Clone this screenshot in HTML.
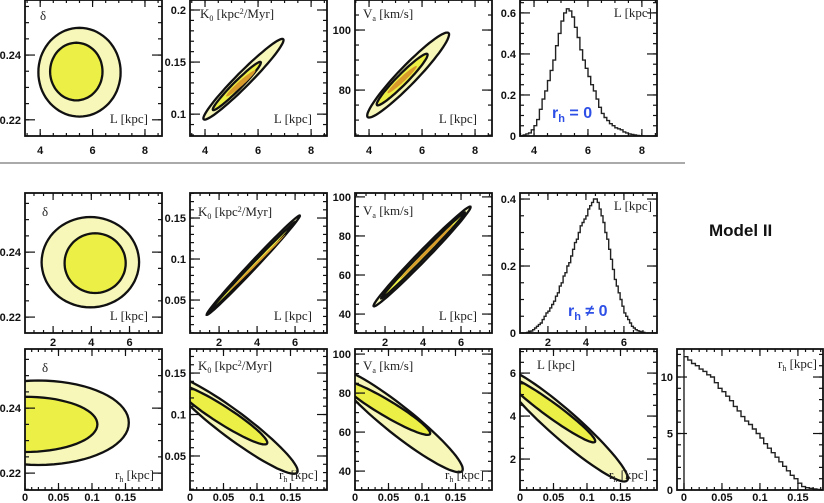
<!DOCTYPE html>
<html><head><meta charset="utf-8"><style>
html,body{margin:0;padding:0;background:#fff;}
svg{display:block;}
.tl{font-family:"Liberation Sans",sans-serif;font-weight:bold;font-size:11px;fill:#111;}
.at{font-family:"Liberation Serif",serif;font-size:13px;fill:#222;}
</style></head><body>
<svg id="fig" width="824" height="503" viewBox="0 0 824 503" xmlns="http://www.w3.org/2000/svg">
<line x1="0" y1="163" x2="685" y2="163" stroke="#555" stroke-width="1"/>
<text x="709" y="236" font-family="Liberation Sans, sans-serif" font-weight="bold" font-size="17" fill="#111">Model II</text>
<text x="552" y="118" font-family="Liberation Sans, sans-serif" font-weight="bold" font-size="16" fill="#2e4fe6">r<tspan font-size="11" dy="4">h</tspan><tspan dy="-4"> = 0</tspan></text>
<text x="568" y="316" font-family="Liberation Sans, sans-serif" font-weight="bold" font-size="16" fill="#2e4fe6">r<tspan font-size="11" dy="4">h</tspan><tspan dy="-4"> ≠ 0</tspan></text>
</svg>
<script>
// ---------- data ----------
const histLModel1Start = 3.5, histLModel1Width = 0.1;
const histLModel1 = [0,0.005,0.01,0.015,0.03,0.05,0.08,0.13,0.18,0.22,0.27,0.32,0.37,0.44,0.50,0.56,0.60,0.62,0.61,0.58,0.53,0.48,0.42,0.37,0.33,0.29,0.25,0.22,0.18,0.14,0.11,0.09,0.075,0.06,0.05,0.04,0.035,0.03,0.02,0.015,0.01,0.008,0.005,0.003,0.001,0];
const histLModel2Start = 0.8, histLModel2Width = 0.1;
const histLModel2 = [0,0.002,0.004,0.006,0.01,0.015,0.02,0.025,0.03,0.04,0.05,0.06,0.065,0.075,0.085,0.095,0.11,0.12,0.14,0.15,0.17,0.18,0.20,0.21,0.23,0.25,0.27,0.28,0.30,0.32,0.33,0.34,0.35,0.37,0.38,0.39,0.40,0.40,0.39,0.37,0.35,0.33,0.30,0.28,0.25,0.22,0.19,0.16,0.14,0.12,0.10,0.08,0.06,0.05,0.04,0.03,0.02,0.015,0.01,0.007,0.005,0.003,0.002];
const histRhStart = 0, histRhWidth = 0.005;
const histRh = [11.8,11.5,11.2,11.0,10.7,10.5,10.2,10.0,9.5,9.0,8.7,8.3,7.9,7.4,7.0,6.5,6.1,5.8,5.4,5.0,4.6,4.1,3.7,3.3,2.9,2.5,2.1,1.7,1.3,1.0,0.6,0.3,0.2,0.15,0.1,0.05,0.02];

// contours: c = centre, a = end of major semi-axis, b = end of conjugate semi-axis (data coords)
const contR1P1 = [{c:[5.5,0.2347],a:[7.07,0.2347],b:[5.5,0.2484],lvl:0},{c:[5.38,0.2349],a:[6.38,0.2349],b:[5.38,0.2438],lvl:1}];
const contR1P2 = [{c:[5.45,0.1335],a:[6.95,0.172],b:[5.64,0.1287],lvl:0},{c:[5.2,0.127],a:[6.1,0.15],b:[5.31,0.1242],lvl:1},{c:[5.35,0.1295],a:[5.9,0.142],b:[5.42,0.1278],lvl:2}];
const contR1P3 = [{c:[5.475,85],a:[7.0,99],b:[5.72,82.9],lvl:0},{c:[5.25,83.5],a:[6.2,92],b:[5.39,82.3],lvl:1},{c:[5.25,83.5],a:[5.8,88],b:[5.32,82.9],lvl:2}];
const contR2P1 = [{c:[3.95,0.2369],a:[6.5,0.2369],b:[3.95,0.2508],lvl:0},{c:[4.2,0.2366],a:[5.8,0.2366],b:[4.2,0.2458],lvl:1}];
const contR2P2 = [{c:[3.8,0.0925],a:[6.25,0.153],b:[3.93,0.0893],lvl:0},{c:[3.75,0.0905],a:[6.0,0.145],b:[3.83,0.0887],lvl:1},{c:[4.0,0.095],a:[5.5,0.13],b:[4.04,0.0942],lvl:2}];
const contR2P3 = [{c:[3.95,69.5],a:[6.5,95],b:[4.13,67.7],lvl:0},{c:[4.0,70],a:[6.2,92],b:[4.1,69],lvl:1},{c:[4.2,72],a:[5.6,86],b:[4.25,71.5],lvl:2}];
const contR3P1 = [{c:[0.02,0.2355],a:[0.155,0.2355],b:[0.02,0.2485],lvl:0},{c:[0.0,0.235],a:[0.108,0.235],b:[0.0,0.2435],lvl:1}];
const contR3P2 = [{c:[0.065,0.0875],a:[0.16,0.03],b:[0.077,0.1005],lvl:0},{c:[0.0475,0.1],a:[0.115,0.065],b:[0.0545,0.1087],lvl:1}];
const contR3P3 = [{c:[0.065,66],a:[0.16,40],b:[0.078,71.6],lvl:0},{c:[0.046,72.5],a:[0.112,59],b:[0.052,76],lvl:1}];
const contR3P4 = [{c:[0.065,3.6],a:[0.16,1.0],b:[0.079,4.09],lvl:0},{c:[0.046,4.3],a:[0.112,2.8],b:[0.0525,4.57],lvl:1}];

// ---------- axis ticks ----------
const ticksLwide = ['4','6','8'];
const ticksLnarrow = ['2','4','6'];
const ticksRh = ['0','0.05','0.1','0.15'];
const ticksDelta = ['0.22','0.24'];
const ticksK1 = ['0.1','0.15','0.2'];
const ticksK2 = ['0.05','0.1','0.15'];
const ticksV1 = ['80','100'];
const ticksV2 = ['40','60','80','100'];
const ticksH1 = ['0','0.2','0.4','0.6'];
const ticksH2 = ['0','0.2','0.4'];
const ticksLy = ['2','4','6'];
const ticksRhHist = ['0','5','10'];

const NS = 'http://www.w3.org/2000/svg';
const svg = document.getElementById('fig');
function el(tag, attrs, parent){ const e=document.createElementNS(NS,tag); for(const k in attrs) e.setAttribute(k,attrs[k]); (parent||svg).appendChild(e); return e; }

function makeAxes(box, xd, yd){
  return {
    x: v => box[0] + (v - xd[0]) / (xd[1]-xd[0]) * (box[2]-box[0]),
    y: v => box[3] - (v - yd[0]) / (yd[1]-yd[0]) * (box[3]-box[1])
  };
}

let clipId = 0;
function panel(name, box, xd, yd, xt, xminor, yt, yminor, draw, titles, lblOff){
  const g = el('g', {});
  
  
  const ax = makeAxes(box, xd, yd);
  const cid = 'clip' + (clipId++);
  const cp = el('clipPath', {id: cid}, g);
  el('rect', {x: box[0], y: box[1], width: box[2]-box[0], height: box[3]-box[1]}, cp);
  const plot = el('g', {'clip-path': 'url(#' + cid + ')'}, g);
  
  
  draw(plot, ax);
  const tg = el('g', {stroke: '#111', 'stroke-width': 1.2}, g);
  function minorRange(d, step, f){ const s = Math.ceil(d[0]/step - 1e-9); for(let i=s; i*step <= d[1]+1e-9; i++) f(i*step); }
  minorRange(xd, xminor, v => { const px = ax.x(v); const L = 3;
    el('line', {x1: px, y1: box[3], x2: px, y2: box[3]-L}, tg); el('line', {x1: px, y1: box[1], x2: px, y2: box[1]+L}, tg); });
  minorRange(yd, yminor, v => { const py = ax.y(v); const L = 4;
    el('line', {x1: box[0], y1: py, x2: box[0]+L, y2: py}, tg); el('line', {x1: box[2], y1: py, x2: box[2]-L, y2: py}, tg); });
  xt.forEach(s => { const v = parseFloat(s); const px = ax.x(v);
    el('line', {x1: px, y1: box[3], x2: px, y2: box[3]-7}, tg); el('line', {x1: px, y1: box[1], x2: px, y2: box[1]+7}, tg);
    const t = el('text', {x: px, y: box[3]+lblOff, 'text-anchor': 'middle', class: 'tl'}, g); t.textContent = s;
      });
  yt.forEach(s => { const v = parseFloat(s); const py = ax.y(v);
    el('line', {x1: box[0], y1: py, x2: box[0]+10, y2: py}, tg); el('line', {x1: box[2], y1: py, x2: box[2]-10, y2: py}, tg);
    const t = el('text', {x: box[0]-4, y: py+4, 'text-anchor': 'end', class: 'tl'}, g); t.textContent = s;
      });
  const fr = el('rect', {x: box[0], y: box[1], width: box[2]-box[0], height: box[3]-box[1], fill: 'none', stroke: '#111', 'stroke-width': 1.8}, g);
  
  
  titles.forEach(t => { const e = el('text', {x: t[0], y: t[1], class: 'at', 'text-anchor': t[3] || 'start'}, g); e.innerHTML = t[2];
      });
}

const fills = ['#f6f7b9', '#ecef45', '#d99a2c'];
function contours(list){
  return (plot, ax) => {
    list.forEach(c => {
      const cx = ax.x(c.c[0]), cy = ax.y(c.c[1]);
      const ux = ax.x(c.a[0]) - cx, uy = ax.y(c.a[1]) - cy;
      const vx = ax.x(c.b[0]) - cx, vy = ax.y(c.b[1]) - cy;
      let d = '';
      for(let i=0;i<=72;i++){ const t = i/72*2*Math.PI;
        const px = cx + ux*Math.cos(t) + vx*Math.sin(t), py = cy + uy*Math.cos(t) + vy*Math.sin(t);
        d += (i ? 'L' : 'M') + px.toFixed(1) + ',' + py.toFixed(1); }
      const p = el('path', {d: d + 'Z', fill: fills[c.lvl], stroke: c.lvl < 2 ? '#111' : 'none', 'stroke-width': 2.3}, plot);
      
      
    });
  };
}
function hist(vals, start, w){
  return (plot, ax) => {
    let d = 'M' + ax.x(start) + ',' + ax.y(0);
    vals.forEach((v, i) => { d += 'V' + ax.y(v).toFixed(1) + 'H' + ax.x(start + (i+1)*w).toFixed(1); });
    d += 'V' + ax.y(0);
    const p = el('path', {d: d, fill: 'none', stroke: '#222', 'stroke-width': 1.4}, plot);
    
    
  };
}

const K0 = 'K<tspan font-size="8" dy="3">0</tspan><tspan dy="-3"> [kpc</tspan><tspan font-size="8" dy="-4">2</tspan><tspan dy="4">/Myr]</tspan>';
const VA = 'V<tspan font-size="8" dy="3">a</tspan><tspan dy="-3"> [km/s]</tspan>';
const RH = 'r<tspan font-size="8" dy="3">h</tspan><tspan dy="-3"> [kpc]</tspan>';

// Row 1 (model I)
panel('r1-delta-vs-L', [25,0,162,136], [3.42,8.65], [0.2150,0.2570], ticksLwide, 0.5, ticksDelta, 0.005, contours(contR1P1),
  [[40,20,'δ','start','y-axis-title'],[148,123,'L [kpc]','end','x-axis-title']], 18);
panel('r1-k0-vs-L', [190,0,327,136], [3.434,8.6], [0.079,0.2096], ticksLwide, 0.5, ticksK1, 0.01, contours(contR1P2),
  [[200,18,K0,'start','y-axis-title'],[312,123,'L [kpc]','end','x-axis-title']], 18);
panel('r1-va-vs-L', [355,0,492,136], [3.47,8.64], [64.7,110], ticksLwide, 0.5, ticksV1, 5, contours(contR1P3),
  [[363,18,VA,'start','y-axis-title'],[477,123,'L [kpc]','end','x-axis-title']], 18);
panel('r1-L-histogram', [520,0,657,136], [3.48,8.56], [0,0.663], ticksLwide, 0.5, ticksH1, 0.05, hist(histLModel1, histLModel1Start, histLModel1Width),
  [[652,17,'L [kpc]','end','x-axis-title']], 18);

// Row 2 (model II)
panel('r2-delta-vs-L', [25,193,162,333], [0.53,7.7], [0.2151,0.2582], ticksLnarrow, 0.5, ticksDelta, 0.005, contours(contR2P1),
  [[42,216,'δ','start','y-axis-title'],[148,320,'L [kpc]','end','x-axis-title']], 13);
panel('r2-k0-vs-L', [190,193,327,333], [0.47,7.68], [0.0098,0.1805], ticksLnarrow, 0.5, ticksK2, 0.01, contours(contR2P2),
  [[198,216,K0,'start','y-axis-title'],[312,320,'L [kpc]','end','x-axis-title']], 13);
panel('r2-va-vs-L', [355,193,492,333], [0.42,7.63], [30.3,102], ticksLnarrow, 0.5, ticksV2, 5, contours(contR2P3),
  [[363,215,VA,'start','y-axis-title'],[477,320,'L [kpc]','end','x-axis-title']], 13);
panel('r2-L-histogram', [520,193,657,333], [0.53,7.74], [0,0.418], ticksLnarrow, 0.5, ticksH2, 0.05, hist(histLModel2, histLModel2Start, histLModel2Width),
  [[652,210,'L [kpc]','end','x-axis-title']], 13);

// Row 3 (rh)
panel('r3-delta-vs-rh', [25,349,162,490], [0,0.2045], [0.2148,0.2582], ticksRh, 0.01, ticksDelta, 0.005, contours(contR3P1),
  [[42,372,'δ','start','y-axis-title'],[154,479,RH,'end','x-axis-title']], 11);
panel('r3-k0-vs-rh', [190,349,327,490], [0,0.2045], [0.009,0.179], ticksRh, 0.01, ticksK2, 0.01, contours(contR3P2),
  [[198,370,K0,'start','y-axis-title'],[318,479,RH,'end','x-axis-title']], 11);
panel('r3-va-vs-rh', [355,349,492,490], [0,0.2045], [30.3,102.6], ticksRh, 0.01, ticksV2, 5, contours(contR3P3),
  [[363,370,VA,'start','y-axis-title'],[484,479,RH,'end','x-axis-title']], 11);
panel('r3-L-vs-rh', [520,349,657,490], [0,0.2045], [0.56,7.12], ticksRh, 0.01, ticksLy, 0.5, contours(contR3P4),
  [[537,369,'L [kpc]','start','y-axis-title'],[648,479,RH,'end','x-axis-title']], 11);
panel('r3-rh-histogram', [677,349,823,490], [-0.0092,0.183], [0,12.48], ticksRh, 0.01, ticksRhHist, 1, hist(histRh, histRhStart, histRhWidth),
  [[817,368,RH,'end','x-axis-title']], 11);
</script>
</body></html>
